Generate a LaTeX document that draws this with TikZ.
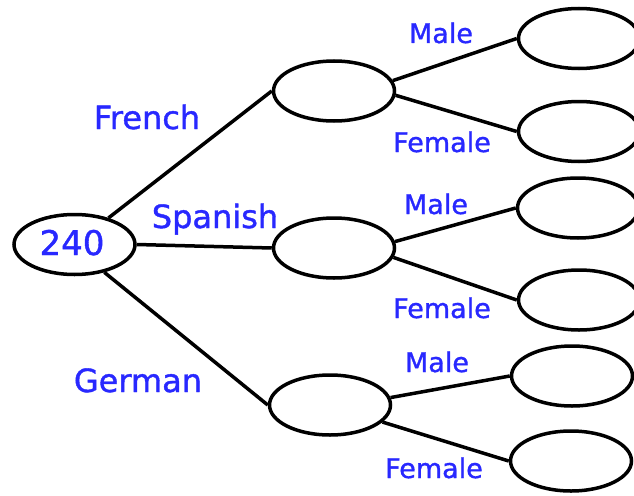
\documentclass[tikz,border=0pt]{standalone}
\usepackage{fontspec}
\setmainfont[FakeBold=1.2]{DejaVu Sans}
\usetikzlibrary{shapes.geometric}
\definecolor{lblue}{RGB}{40,40,255}
\tikzset{
  oval/.style={draw=black, line width=3.5pt, ellipse, minimum width=121pt, minimum height=60pt, inner sep=0pt},
  edge/.style={draw=black, line width=3.5pt},
  biglbl/.style={text=lblue, anchor=base, inner sep=0pt, font=\fontsize{32}{36}\selectfont},
  smalllbl/.style={text=lblue, anchor=base, inner sep=0pt, font=\fontsize{27}{30}\selectfont}
}
\begin{document}
\begin{tikzpicture}[x=1pt,y=-1pt]
\useasboundingbox (0,0) rectangle (634,495);
\node[oval] (root) at (74.5,244.5) {};
\node[oval] (fr) at (334,91) {};
\node[oval] (sp) at (334,248) {};
\node[oval] (ge) at (330,405) {};
\node[oval] (frm) at (579,38.5) {};
\node[oval] (frf) at (579,131.5) {};
\node[oval] (spm) at (578,208) {};
\node[oval] (spf) at (579,300) {};
\node[oval] (gem) at (572,376) {};
\node[oval] (gef) at (571,461) {};
\draw[edge] (root.38) -- (fr.west);
\draw[edge] (root.east) -- (sp.west);
\draw[edge] (root.-43) -- (ge.west);
\draw[edge] (fr.10) -- (frm.west);
\draw[edge] (fr.-4) -- (frf.west);
\draw[edge] (sp.6) -- (spm.west);
\draw[edge] (sp.-9) -- (spf.west);
\draw[edge] (ge.7) -- (gem.west);
\draw[edge] (ge.-18) -- (gef.west);
\node[biglbl, font=\fontsize{34}{38}\selectfont] (n240) at (72,255) {240};
\node[biglbl] (lfr) at (147,129) {French};
\node[biglbl] (lsp) at (215,228) {Spanish};
\node[biglbl] (lge) at (138,392) {German};
\node[smalllbl] (lm1) at (441,43) {Male};
\node[smalllbl] (lf1) at (442,152) {Female};
\node[smalllbl] (lm2) at (436,214) {Male};
\node[smalllbl] (lf2) at (442,318) {Female};
\node[smalllbl] (lm3) at (437,372) {Male};
\node[smalllbl] (lf3) at (434,478) {Female};
\end{tikzpicture}
\end{document}
